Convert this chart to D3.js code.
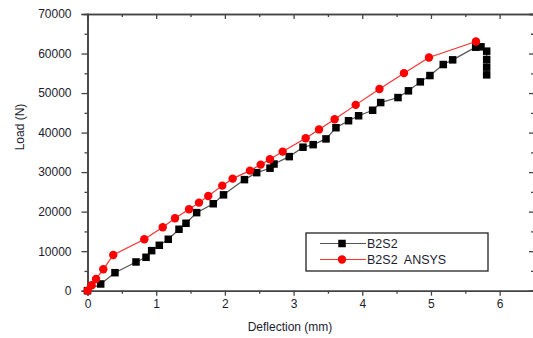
<!DOCTYPE html>
<html>
<head>
<meta charset="utf-8">
<script src="https://cdn.jsdelivr.net/npm/d3@7"></script>
<style>
  body { margin: 0; background: #fff; }
  svg { font-family: "Liberation Sans", Arial, sans-serif; }
  .legend-label { white-space: pre; }
</style>
</head>
<body>
<script>
const width = 533;
const height = 338;

// B2S2 experimental: [deflection mm, load N]
const b2s2 = [
  [0, 0], [0.192, 1700], [0.4, 4560], [0.706, 7270], [0.852, 8450],
  [0.934, 10130], [1.045, 11490], [1.176, 13010], [1.332, 15540], [1.434, 17060],
  [1.589, 19750], [1.831, 22000], [1.98, 24250], [2.285, 28100], [2.463, 29870],
  [2.657, 30990], [2.715, 32050], [2.937, 33920], [3.137, 36300], [3.285, 36950],
  [3.472, 38400], [3.617, 41230], [3.8, 43000], [3.947, 44260], [4.151, 45650],
  [4.268, 47590], [4.52, 48860], [4.672, 50560], [4.845, 52830], [4.985, 54430],
  [5.179, 57220], [5.316, 58400], [5.651, 61600], [5.728, 61700], [5.811, 60600],
  [5.811, 58500], [5.811, 56560], [5.811, 54610]
];

// B2S2 ANSYS
const b2s2Ansys = [
  [0, 0], [0.06, 1370], [0.124, 2960], [0.23, 5420], [0.375, 9040],
  [0.827, 13010], [1.095, 16050], [1.274, 18330], [1.478, 20610], [1.623, 22280],
  [1.758, 23970], [1.962, 26580], [2.113, 28350], [2.365, 30380], [2.521, 31900],
  [2.656, 33270], [2.841, 35190], [3.176, 38580], [3.37, 40800], [3.598, 43390],
  [3.904, 47010], [4.25, 51020], [4.607, 55040], [4.971, 58990], [5.655, 63040]
];

const xTicks = [0, 1, 2, 3, 4, 5, 6];
const yTicks = [0, 10000, 20000, 30000, 40000, 50000, 60000, 70000];
const seriesNames = ["B2S2", "B2S2  ANSYS"];

const x = d3.scaleLinear().domain([0, 6.5]).range([87.5, 534]);
const y = d3.scaleLinear().domain([0, 70000]).range([290.7, 14]);

const xMinor = d3.range(0.5, 6.5, 1);
const yMinor = d3.range(5000, 70000, 10000);

const axisColor = "#444";

const svg = d3
  .select("body")
  .append("svg")
  .attr("width", width)
  .attr("height", height);

function styleAxis(g) {
  g.select(".domain").attr("stroke", axisColor).attr("stroke-width", 1.6);
  g.selectAll(".tick line").attr("stroke", axisColor).attr("stroke-width", 1.3);
  g.selectAll("text").attr("fill", "#1c1c30").attr("font-size", 12);
}

// bottom
svg.append("g")
  .attr("transform", `translate(0,${y(0)})`)
  .call(d3.axisBottom(x).tickValues(xTicks).tickSize(5).tickPadding(4).tickFormat(d3.format("d")))
  .call(styleAxis);
svg.append("g")
  .attr("transform", `translate(0,${y(0)})`)
  .call(d3.axisBottom(x).tickValues(xMinor).tickSize(3).tickFormat(""))
  .call(styleAxis);

// top
svg.append("g")
  .attr("transform", `translate(0,${y(70000)})`)
  .call(d3.axisBottom(x).tickValues(xTicks).tickSize(5).tickFormat(""))
  .call(styleAxis);
svg.append("g")
  .attr("transform", `translate(0,${y(70000)})`)
  .call(d3.axisBottom(x).tickValues(xMinor).tickSize(3).tickFormat(""))
  .call(styleAxis);

// left
svg.append("g")
  .attr("transform", `translate(${x(0)},0)`)
  .call(d3.axisLeft(y).tickValues(yTicks).tickSize(6).tickPadding(10).tickFormat(d3.format("d")))
  .call(styleAxis);
svg.append("g")
  .attr("transform", `translate(${x(0)},0)`)
  .call(d3.axisLeft(y).tickValues(yMinor).tickSize(3).tickFormat(""))
  .call(styleAxis);

// right
svg.append("g")
  .attr("transform", `translate(${x(6.5)},0)`)
  .call(d3.axisLeft(y).tickValues(yTicks).tickSize(5).tickFormat(""))
  .call(styleAxis);
svg.append("g")
  .attr("transform", `translate(${x(6.5)},0)`)
  .call(d3.axisLeft(y).tickValues(yMinor).tickSize(3).tickFormat(""))
  .call(styleAxis);

// axis titles
svg.append("text")
  .attr("x", 290)
  .attr("y", 331)
  .attr("text-anchor", "middle")
  .attr("font-size", 12)
  .attr("fill", "#1c1c30")
  .text("Deflection (mm)");

svg.append("text")
  .attr("transform", "translate(24,127) rotate(-90)")
  .attr("text-anchor", "middle")
  .attr("font-size", 12)
  .attr("fill", "#1c1c30")
  .text("Load (N)");

const line = d3.line().x((d) => x(d[0])).y((d) => y(d[1]));

// black series
svg.append("path")
  .datum(b2s2)
  .attr("fill", "none")
  .attr("stroke", "#555")
  .attr("stroke-width", 1.2)
  .attr("d", line);

// red series
svg.append("path")
  .datum(b2s2Ansys)
  .attr("fill", "none")
  .attr("stroke", "#ff3030")
  .attr("stroke-width", 1.2)
  .attr("d", line);

const sq = 7.5;
svg.append("g")
  .selectAll("rect")
  .data(b2s2)
  .join("rect")
  .attr("x", (d) => x(d[0]) - sq / 2)
  .attr("y", (d) => y(d[1]) - sq / 2)
  .attr("width", sq)
  .attr("height", sq)
  .attr("fill", "#000");

svg.append("g")
  .selectAll("circle")
  .data(b2s2Ansys)
  .join("circle")
  .attr("cx", (d) => x(d[0]))
  .attr("cy", (d) => y(d[1]))
  .attr("r", 4.2)
  .attr("fill", "#ff0000");

// legend
const legend = svg.append("g");
legend.append("rect")
  .attr("x", 306)
  .attr("y", 233)
  .attr("width", 182)
  .attr("height", 38)
  .attr("fill", "#fff")
  .attr("stroke", "#222")
  .attr("stroke-width", 1.3);

const legendRows = legend
  .selectAll("g")
  .data(seriesNames)
  .join("g")
  .attr("transform", (d, i) => `translate(0,${243.5 + i * 16})`);

legendRows.append("line")
  .attr("x1", 320)
  .attr("x2", 366)
  .attr("stroke", (d, i) => (i === 0 ? "#555" : "#ff3030"))
  .attr("stroke-width", 1.2);

legendRows.each(function (d, i) {
  const g = d3.select(this);
  if (i === 0) {
    g.append("rect")
      .attr("x", 342 - sq / 2)
      .attr("y", -sq / 2)
      .attr("width", sq)
      .attr("height", sq)
      .attr("fill", "#000");
  } else {
    g.append("circle").attr("cx", 342).attr("r", 4.2).attr("fill", "#ff0000");
  }
});

legendRows.append("text")
  .attr("class", "legend-label")
  .attr("x", 367)
  .attr("dy", "0.36em")
  .attr("font-size", 12.5)
  .attr("fill", "#1c1c30")
  .text((d) => d);
</script>
</body>
</html>
